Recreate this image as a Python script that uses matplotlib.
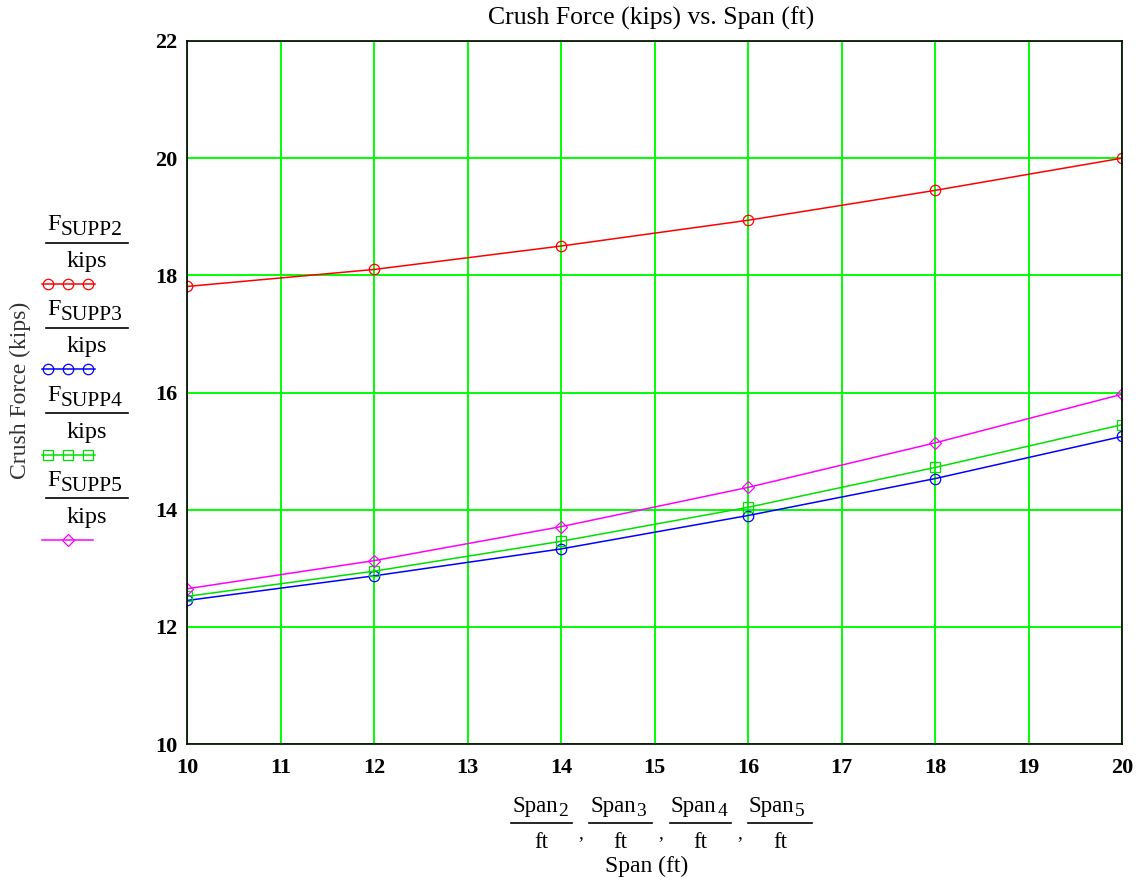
import matplotlib
matplotlib.use("Agg")
import matplotlib.pyplot as plt
from matplotlib.lines import Line2D

# ---- data ----
span_ft = [10, 12, 14, 16, 18, 20]
f_supp2 = [17.81, 18.10, 18.50, 18.94, 19.45, 20.00]
f_supp3 = [12.45, 12.87, 13.33, 13.90, 14.53, 15.25]
f_supp4 = [12.52, 12.95, 13.46, 14.04, 14.72, 15.45]
f_supp5 = [12.65, 13.13, 13.71, 14.38, 15.14, 15.97]

series_subs = ["SUPP2", "SUPP3", "SUPP4", "SUPP5"]
span_subs = ["2", "3", "4", "5"]
x_ticks = list(range(10, 21))
y_ticks = list(range(10, 23, 2))

title_text = "Crush Force (kips) vs. Span (ft)"
ylabel_text = "Crush Force (kips)"
xlabel_text = "Span (ft)"

# ---- figure ----
W, H = 1146, 882
DPI = 100
plt.rcParams["font.family"] = ["Liberation Serif", "DejaVu Serif"]
fig = plt.figure(figsize=(W / DPI, H / DPI), dpi=DPI)
fig.patch.set_facecolor("white")


def fx(px):
    return px / W


def fy(py):
    return 1 - py / H


ax = fig.add_axes([fx(187), fy(744), fx(1122) - fx(187), fy(41) - fy(744)])

styles = [
    dict(color="#ff0000", marker="o"),
    dict(color="#0000ff", marker="o"),
    dict(color="#00e000", marker="s"),
    dict(color="#ff00ff", marker="D"),
]
series = [f_supp2, f_supp3, f_supp4, f_supp5]
msizes = [7.5, 7.5, 7.2, 5.8]

for vals, st, ms in zip(series, styles, msizes):
    ax.plot(span_ft, vals, color=st["color"], lw=1.1, marker=st["marker"],
            ms=ms, mfc="none", mec=st["color"], mew=0.9, zorder=3)

ax.set_xlim(10, 20)
ax.set_ylim(10, 22)
ax.set_xticks(x_ticks)
ax.set_yticks(y_ticks)
ax.grid(True, color="#00ff00", lw=1.4, zorder=1)
ax.set_axisbelow(True)
ax.tick_params(length=0, labelsize=16)
ax.tick_params(axis="x", pad=10)
ax.tick_params(axis="y", pad=7)
for lab in ax.get_xticklabels() + ax.get_yticklabels():
    lab.set_fontweight("bold")
for sp in ax.spines.values():
    sp.set_color("black")
    sp.set_linewidth(1.2)
    sp.set_zorder(4)

# ---- title and axis label ----
fig.text(fx(651), fy(25), title_text, fontsize=18.5, ha="center", va="baseline")
fig.text(fx(20), fy(390), ylabel_text, fontsize=17, rotation=90,
         ha="center", va="center", color="#333333")
fig.text(fx(647), fy(872), xlabel_text, fontsize=17, ha="center", va="baseline")

renderer = fig.canvas.get_renderer()


def text_with_sub(x_left, y_base, main, sub, size, subsize, drop):
    t = fig.text(fx(x_left), fy(y_base), main, fontsize=size,
                 ha="left", va="baseline")
    w = t.get_window_extent(renderer).width
    fig.text(fx(x_left + w + 0.5), fy(y_base + drop), sub, fontsize=subsize,
             ha="left", va="baseline")


def hline(x0, x1, y, color="black", lw=1.2, **kw):
    fig.add_artist(Line2D([fx(x0), fx(x1)], [fy(y), fy(y)],
                          transform=fig.transFigure, color=color, lw=lw, **kw))


# ---- left-side series key ----
for i, (sub, st) in enumerate(zip(series_subs, styles)):
    base = 230 + 85.3 * i
    text_with_sub(47, base, "F", sub, 17.5, 15.5, 5)
    hline(46, 128, base + 12.5)
    fig.text(fx(87), fy(base + 37), "kips", fontsize=17.5, ha="center", va="baseline")
    ys = base + 54
    if st["marker"] == "D":
        hline(42, 93, ys, color=st["color"], lw=1.1)
        fig.add_artist(Line2D([fx(68)], [fy(ys)], transform=fig.transFigure,
                              marker="D", ms=5.8, mfc="none", mec=st["color"],
                              mew=0.9, lw=0))
    else:
        hline(42, 95, ys, color=st["color"], lw=1.1)
        fig.add_artist(Line2D([fx(48), fx(68), fx(88)], [fy(ys)] * 3,
                              transform=fig.transFigure, marker=st["marker"],
                              ms=7.5 if st["marker"] == "o" else 7.2,
                              mfc="none", mec=st["color"], mew=0.9, lw=0))

# ---- x-axis expression label ----
frac_lines = [(511, 572), (589, 652), (670, 731), (748, 812)]
for k, ((x0, x1), sub) in enumerate(zip(frac_lines, span_subs)):
    text_with_sub(x0 + 1, 812, "Span", sub, 16.5, 14, 4)
    hline(x0, x1, 823)
    fig.text(fx((x0 + x1) / 2), fy(848), "ft", fontsize=16.5, ha="center", va="baseline")
    if k < 3:
        fig.text(fx(x1 + 9), fy(838), ",", fontsize=14, ha="center", va="baseline")

fig.savefig("out.png", dpi=DPI, facecolor="white")
